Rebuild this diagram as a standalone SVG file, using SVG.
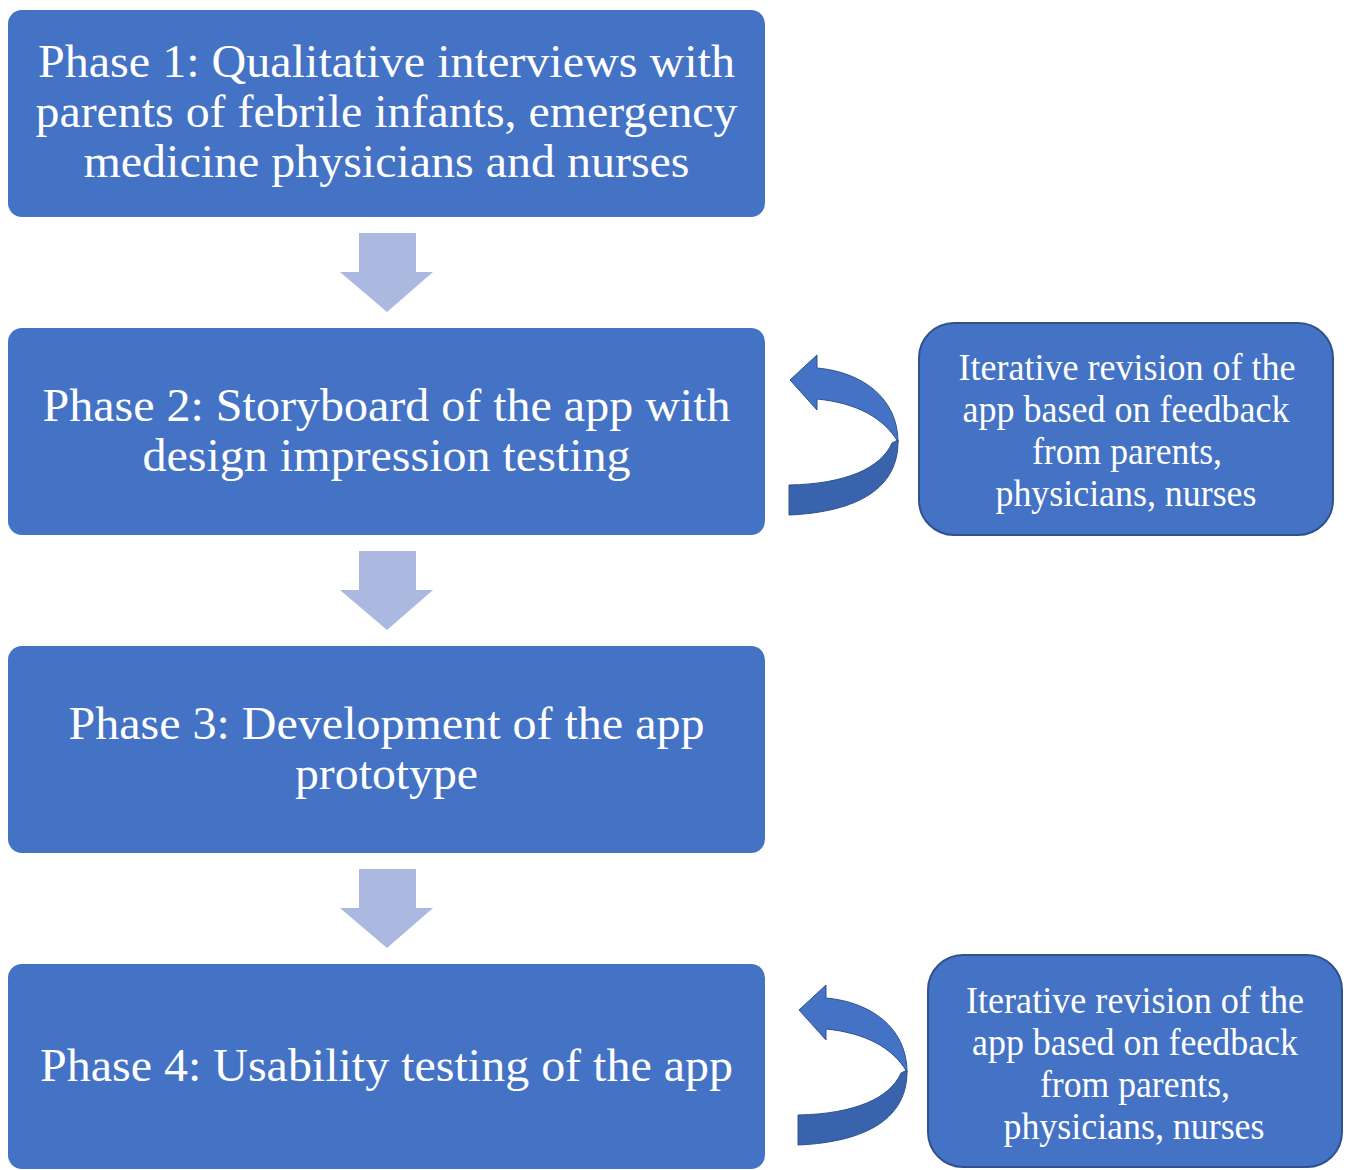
<svg xmlns="http://www.w3.org/2000/svg" width="1347" height="1170" viewBox="0 0 1347 1170">
  <style>
    .phase { fill: #4472C4; }
    .note { fill: #4472C4; stroke: #2F528F; stroke-width: 2; }
    .t { font-family: "Liberation Serif", "Times New Roman", serif; fill: #FFFFFF; text-anchor: middle; }
    .big { font-size: 46px; }
    .small { font-size: 37px; }
    .down { fill: #ABB9E0; }
    .loop-top { fill: #4472C4; stroke: #2F528F; stroke-width: 1; }
    .loop-bottom { fill: #3A63AD; stroke: #2F528F; stroke-width: 1; }
  </style>
  <defs>
    <path id="downArrow" d="M 359 0 L 416 0 L 416 39 L 433 39 L 387 79 L 340 39 L 359 39 Z"/>
    <g id="loopArrow">
      <!-- lower half of the twisted band, in shade -->
      <path class="loop-bottom" d="M 898 440 C 899 488 858 512 789 515 L 789 485 C 846 484 881 468 892 443 Z"/>
      <!-- upper half with the arrowhead -->
      <path class="loop-top" d="M 790 380 L 817 355 L 817 368 C 862 372 898 398 898 442 C 884 418 857 403 817 399 L 817 410 Z"/>
    </g>
  </defs>

  <!-- connectors -->
  <g id="connectors">
    <use href="#downArrow" class="down" y="233"/>
    <use href="#downArrow" class="down" y="551"/>
    <use href="#downArrow" class="down" y="869"/>
    <use href="#loopArrow"/>
    <use href="#loopArrow" transform="translate(9,630)"/>
  </g>

  <!-- phase nodes -->
  <g id="phase1">
    <rect class="phase" x="8" y="10" width="757" height="207" rx="14"/>
    <text class="t big" x="386.5" y="77" textLength="697" lengthAdjust="spacingAndGlyphs">Phase 1: Qualitative interviews with</text>
    <text class="t big" x="386.5" y="127" textLength="702" lengthAdjust="spacingAndGlyphs">parents of febrile infants, emergency</text>
    <text class="t big" x="386.5" y="177" textLength="606" lengthAdjust="spacingAndGlyphs">medicine physicians and nurses</text>
  </g>

  <g id="phase2">
    <rect class="phase" x="8" y="328" width="757" height="207" rx="14"/>
    <text class="t big" x="386.5" y="421" textLength="688" lengthAdjust="spacingAndGlyphs">Phase 2: Storyboard of the app with</text>
    <text class="t big" x="386.5" y="471" textLength="488" lengthAdjust="spacingAndGlyphs">design impression testing</text>
  </g>

  <g id="phase3">
    <rect class="phase" x="8" y="646" width="757" height="207" rx="14"/>
    <text class="t big" x="386.5" y="739" textLength="636" lengthAdjust="spacingAndGlyphs">Phase 3: Development of the app</text>
    <text class="t big" x="386.5" y="789" textLength="183" lengthAdjust="spacingAndGlyphs">prototype</text>
  </g>

  <g id="phase4">
    <rect class="phase" x="8" y="964" width="757" height="205" rx="14"/>
    <text class="t big" x="386.5" y="1081" textLength="693" lengthAdjust="spacingAndGlyphs">Phase 4: Usability testing of the app</text>
  </g>

  <!-- feedback notes -->
  <g id="revision2">
    <rect class="note" x="919" y="323" width="414" height="212" rx="35"/>
    <text class="t small" x="1127" y="380" textLength="337" lengthAdjust="spacingAndGlyphs">Iterative revision of the</text>
    <text class="t small" x="1126" y="422" textLength="327" lengthAdjust="spacingAndGlyphs">app based on feedback</text>
    <text class="t small" x="1127" y="464" textLength="190" lengthAdjust="spacingAndGlyphs">from parents,</text>
    <text class="t small" x="1126" y="506" textLength="261" lengthAdjust="spacingAndGlyphs">physicians, nurses</text>
  </g>

  <g id="revision4">
    <rect class="note" x="928" y="955" width="414" height="212" rx="35"/>
    <text class="t small" x="1135" y="1013" textLength="338" lengthAdjust="spacingAndGlyphs">Iterative revision of the</text>
    <text class="t small" x="1135" y="1055" textLength="326" lengthAdjust="spacingAndGlyphs">app based on feedback</text>
    <text class="t small" x="1135" y="1097" textLength="190" lengthAdjust="spacingAndGlyphs">from parents,</text>
    <text class="t small" x="1134" y="1139" textLength="261" lengthAdjust="spacingAndGlyphs">physicians, nurses</text>
  </g>
</svg>
